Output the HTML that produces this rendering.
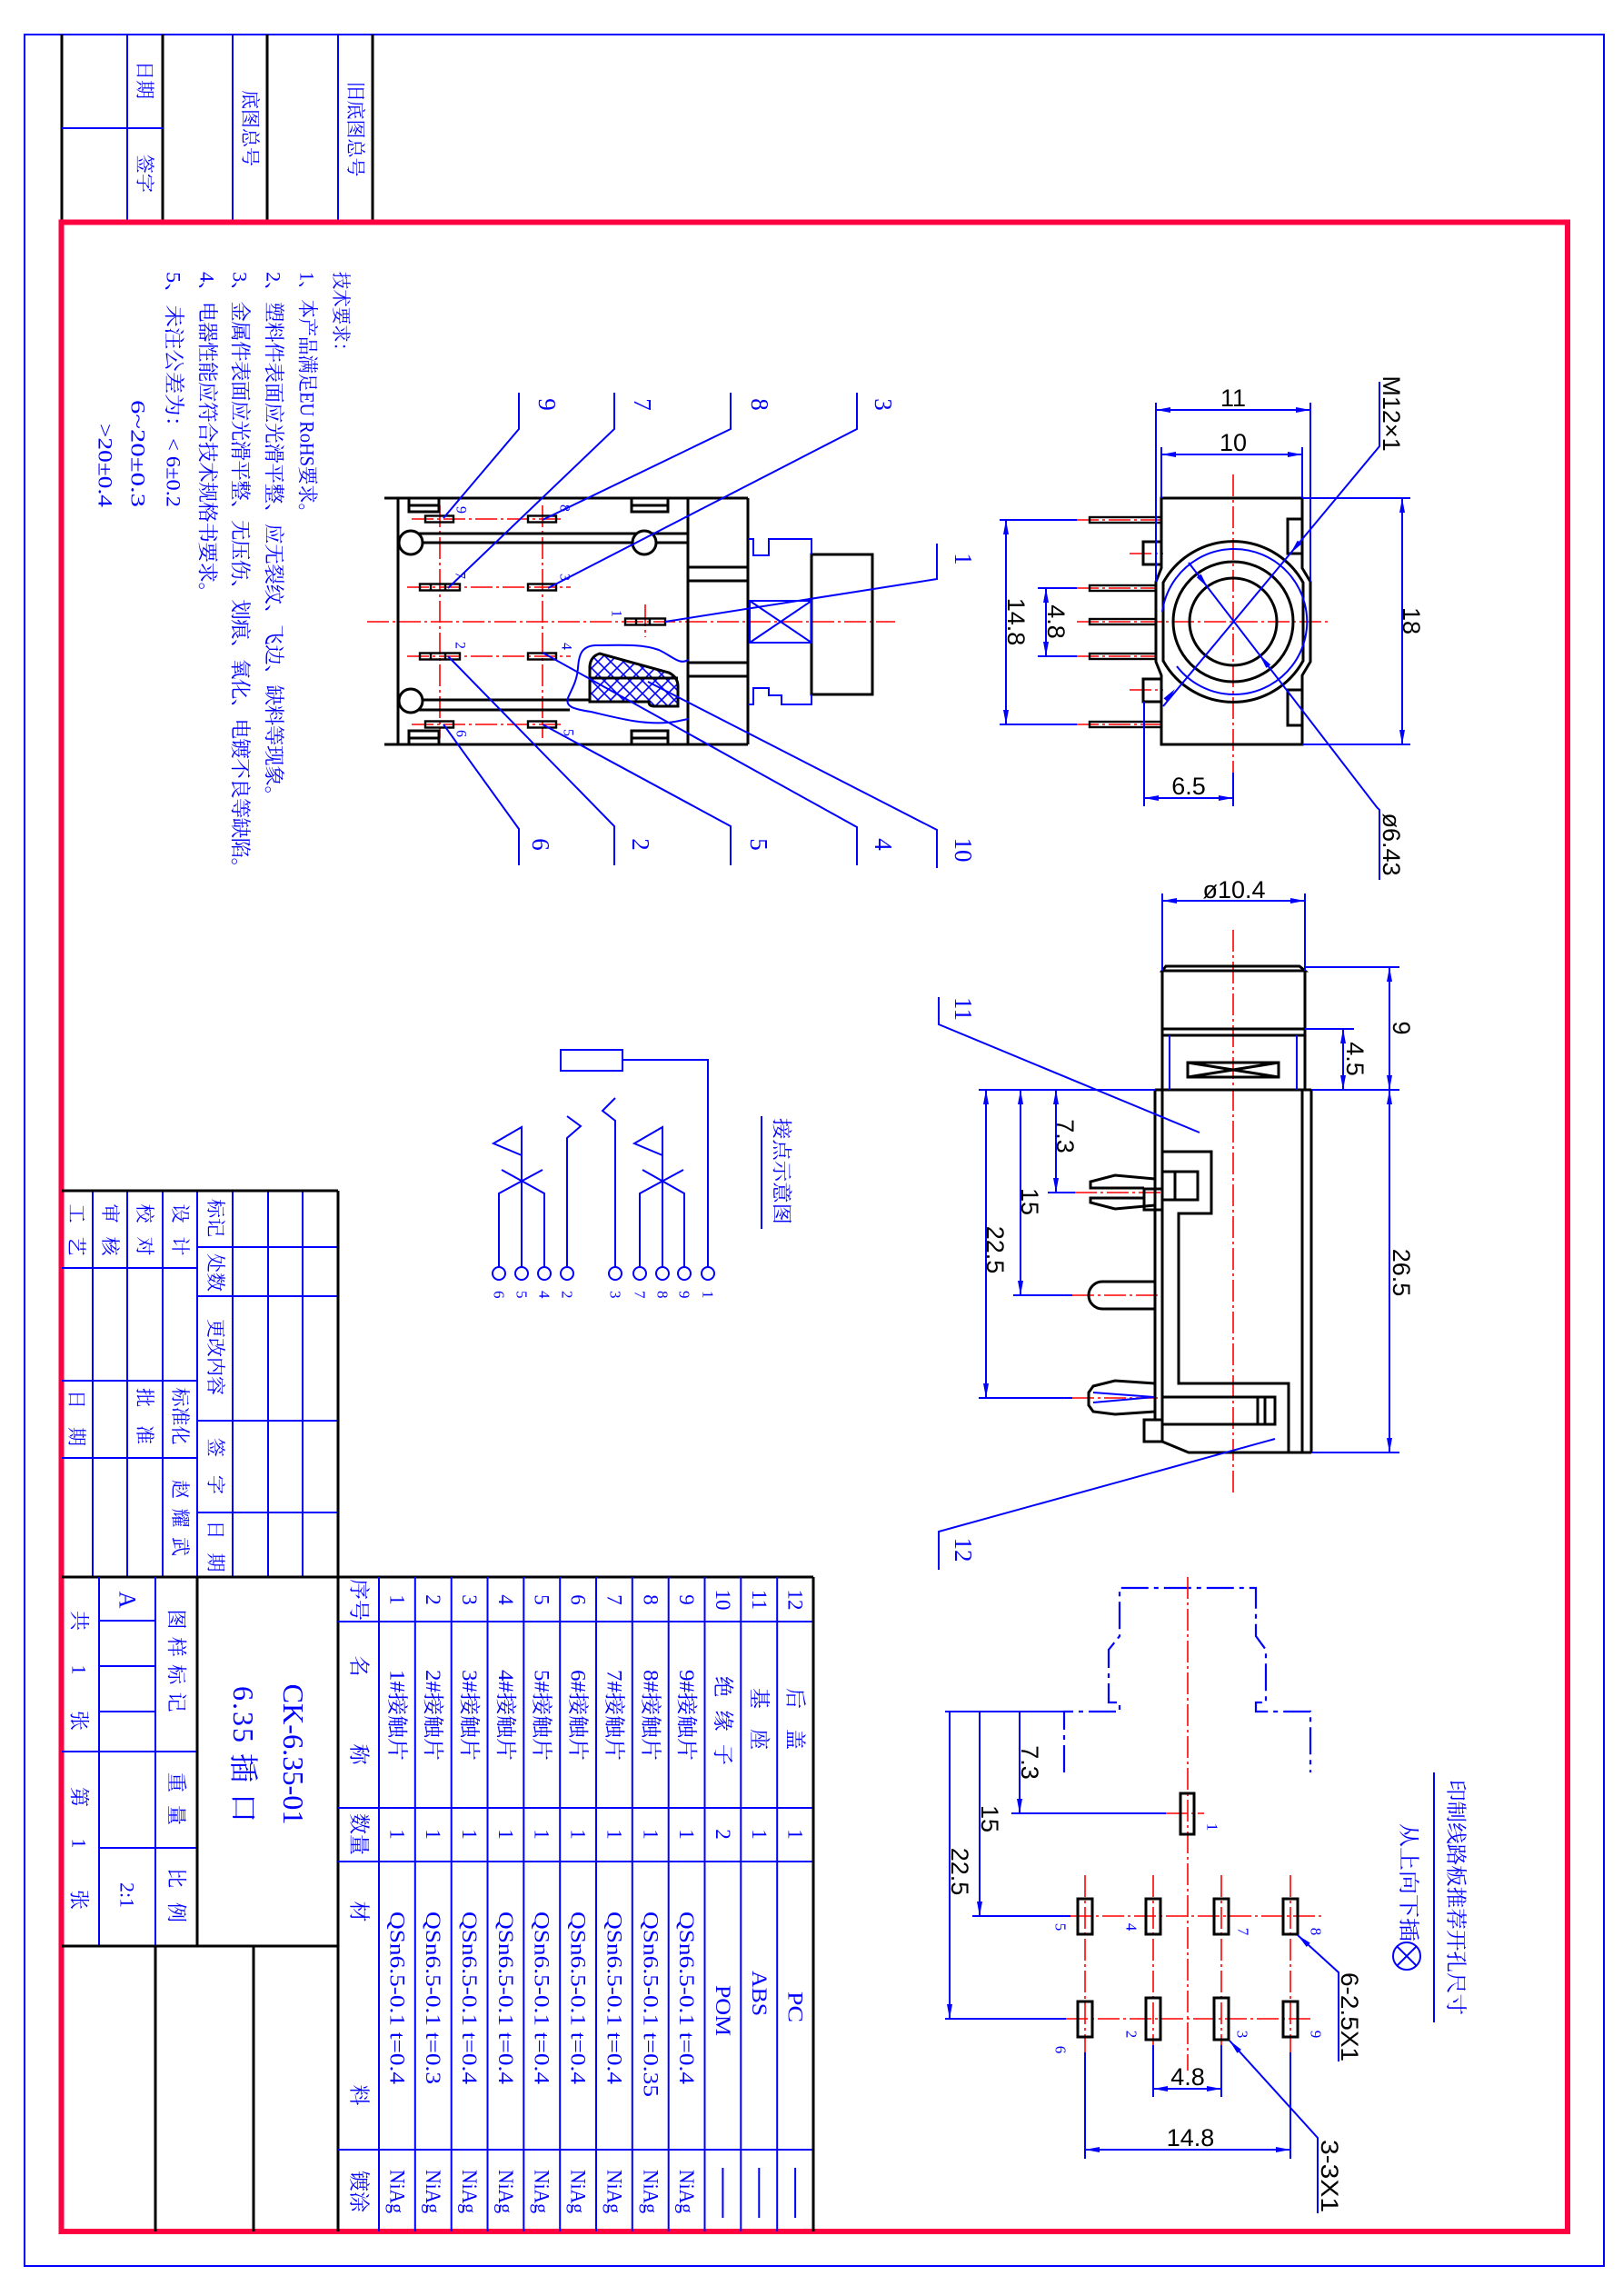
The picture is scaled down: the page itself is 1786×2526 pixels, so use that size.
<!DOCTYPE html>
<html><head><meta charset="utf-8">
<style>
html,body{margin:0;padding:0;background:#fff;}
svg{display:block;}
.t{font-family:"Liberation Serif","Noto Serif CJK SC","Noto Sans CJK SC",serif;fill:#00f;}
.d{font-family:"Liberation Sans",sans-serif;fill:#000;}
.k{stroke:#000;stroke-width:3;fill:none;}
.k2{stroke:#000;stroke-width:2.4;fill:none;}
.b{stroke:#00f;stroke-width:2;fill:none;}
.r{stroke:#f00;stroke-width:1.6;stroke-dasharray:24 4 3 4;fill:none;}
.bd{stroke:#00f;stroke-width:2.2;fill:none;stroke-dasharray:30 6 5 6;}
</style></head><body>
<svg width="1786" height="2526" viewBox="0 0 1786 2526" xmlns="http://www.w3.org/2000/svg">
<defs>
<marker id="ar" viewBox="0 0 16 6" refX="16" refY="3" markerWidth="16" markerHeight="6" markerUnits="userSpaceOnUse" orient="auto-start-reverse"><path d="M0,0 L16,3 L0,6 Z" fill="#00f"/></marker>
<pattern id="hx" width="14" height="14" patternUnits="userSpaceOnUse"><path d="M0,0 L14,14 M14,0 L0,14" stroke="#00f" stroke-width="1.6"/></pattern>
</defs>
<rect width="1786" height="2526" fill="#fff"/>

<!-- ===== FRAME ===== -->
<rect x="27" y="38" width="1738" height="2455" class="b"/>
<g class="k">
<line x1="68" y1="38" x2="68" y2="244"/><line x1="179" y1="38" x2="179" y2="244"/>
<line x1="294" y1="38" x2="294" y2="244"/><line x1="410" y1="38" x2="410" y2="244"/>
</g>
<g class="b">
<line x1="140" y1="38" x2="140" y2="244"/><line x1="256" y1="38" x2="256" y2="244"/>
<line x1="372" y1="38" x2="372" y2="244"/><line x1="68" y1="141" x2="179" y2="141"/>
</g>
<g class="t" font-size="21" dominant-baseline="central" text-anchor="middle">
<text transform="translate(159,88) rotate(90)">日期</text>
<text transform="translate(159,191) rotate(90)">签字</text>
<text transform="translate(275,141) rotate(90)">底图总号</text>
<text transform="translate(391,142) rotate(90)">旧底图总号</text>
</g>
<rect x="67.5" y="244.5" width="1657.5" height="2210.5" fill="none" stroke="#ff0040" stroke-width="6"/>

<!-- ===== TECH REQUIREMENTS ===== -->
<g class="t" font-size="22.5" dominant-baseline="central">
<text transform="translate(375,299) rotate(90)" font-size="21" textLength="97" lengthAdjust="spacingAndGlyphs">技术要求：</text>
<text transform="translate(338,299) rotate(90)" textLength="275" lengthAdjust="spacingAndGlyphs">1、本产品满足EU RoHS要求。</text>
<text transform="translate(301,299) rotate(90)" textLength="588" lengthAdjust="spacing">2、塑料件表面应光滑平整、应无裂纹、飞边、缺料等现象。</text>
<text transform="translate(264,299) rotate(90)" textLength="667" lengthAdjust="spacing">3、金属件表面应光滑平整、无压伤、划痕、氧化、电镀不良等缺陷。</text>
<text transform="translate(228,299) rotate(90)" textLength="364" lengthAdjust="spacing">4、电器性能应符合技术规格书要求。</text>
<text transform="translate(191,299) rotate(90)" textLength="259" lengthAdjust="spacingAndGlyphs">5、未注公差为：&lt; 6±0.2</text>
<text transform="translate(152,440) rotate(90)" textLength="118" lengthAdjust="spacingAndGlyphs">6~20±0.3</text>
<text transform="translate(116,466) rotate(90)" textLength="92" lengthAdjust="spacingAndGlyphs">&gt;20±0.4</text>
</g>

<!-- ===== SECTION VIEW ===== -->
<g class="r">
<line x1="404" y1="684" x2="985" y2="684"/>
<line x1="484" y1="556" x2="484" y2="812"/>
<line x1="597" y1="556" x2="597" y2="812"/>
<line x1="453" y1="571" x2="620" y2="571"/>
<line x1="448" y1="646" x2="628" y2="646"/>
<line x1="448" y1="722" x2="628" y2="722"/>
<line x1="453" y1="797" x2="620" y2="797"/>
<line x1="710" y1="665" x2="710" y2="701"/>
</g>
<g class="k">
<line x1="423" y1="548" x2="823" y2="548"/>
<line x1="423" y1="819" x2="823" y2="819"/>
<line x1="438" y1="548" x2="438" y2="819"/>
<line x1="757" y1="548" x2="757" y2="819"/>
<line x1="823" y1="548" x2="823" y2="819"/>
<path d="M450,548 V563 H483 V548 M450,556 H483"/>
<path d="M695,548 V563 H735 V548 M695,556 H735"/>
<path d="M450,819 V804 H483 V819 M450,812 H483"/>
<path d="M695,819 V804 H735 V819 M695,812 H735"/>
<line x1="452" y1="587" x2="757" y2="587"/>
<line x1="452" y1="597" x2="757" y2="597"/>
<line x1="452" y1="770" x2="648" y2="770"/>
<line x1="452" y1="781" x2="627" y2="781"/>
<line x1="757" y1="624" x2="823" y2="624"/>
<line x1="757" y1="639" x2="823" y2="639"/>
<line x1="757" y1="729" x2="823" y2="729"/>
<line x1="757" y1="744" x2="823" y2="744"/>
<circle cx="452" cy="597" r="13" fill="#fff"/>
<circle cx="709" cy="597" r="13" fill="#fff"/>
<circle cx="452" cy="771" r="13" fill="#fff"/>
<rect x="893" y="610" width="67" height="154"/>
</g>
<!-- hatch -->
<path d="M649,772 L649,733 Q650,722 660,719 L736,740 Q746,745 746,755 L746,777 L720,777 Q714,777 714,772 Z" fill="url(#hx)" stroke="#000" stroke-width="3"/>
<line x1="649" y1="746" x2="746" y2="746" class="k"/>
<path d="M757,726 C748,732 740,722 725,715 C705,708 680,710 655,710 C640,711 637,720 636,735 C635,750 628,760 625,768 C622,777 630,780 650,783 C680,790 705,797 735,795 C745,794 752,792 757,791" class="b"/>
<!-- right blue part -->
<g class="b">
<path d="M823,593 H829 V611 H846 V593 H893 V610"/>
<path d="M823,775 H829 V757 H846 V765 H860 V775 H893 V764"/>
<rect x="825" y="661" width="68" height="46"/>
<path d="M825,661 L893,707 M825,707 L893,661"/>
</g>
<!-- pins -->
<g class="k2">
<rect x="468" y="567.5" width="31" height="7"/>
<rect x="581" y="567.5" width="31" height="7"/>
<rect x="462" y="642.5" width="44" height="7"/>
<rect x="581" y="642.5" width="31" height="7"/>
<rect x="688" y="680.5" width="44" height="7"/>
<rect x="462" y="718.5" width="44" height="7"/>
<rect x="581" y="718.5" width="31" height="7"/>
<rect x="468" y="793.5" width="31" height="7"/>
<rect x="581" y="793.5" width="31" height="7"/>
<path d="M474,642.5 V649.5 M490,642.5 V649.5 M474,718.5 V725.5 M490,718.5 V725.5 M700,680.5 V687.5 M715,680.5 V687.5"/>
</g>
<g class="t" font-size="16" dominant-baseline="central" text-anchor="middle">
<text transform="translate(507,561) rotate(90)">9</text>
<text transform="translate(621,559) rotate(90)">8</text>
<text transform="translate(506,633) rotate(90)">7</text>
<text transform="translate(621,635) rotate(90)">3</text>
<text transform="translate(678,675) rotate(90)">1</text>
<text transform="translate(506,710) rotate(90)">2</text>
<text transform="translate(623,711) rotate(90)">4</text>
<text transform="translate(507,807) rotate(90)">6</text>
<text transform="translate(625,806) rotate(90)">5</text>
</g>
<!-- callout leaders -->
<g class="b">
<path d="M488,570 L571,472 V432"/>
<path d="M493,647 L676,472 V432"/>
<path d="M597,572 L804,472 V432"/>
<path d="M603,647 L943,472 V432"/>
<path d="M732,684 L1031,637 V598"/>
<path d="M488,797 L571,912 V952"/>
<path d="M493,722 L676,909 V952"/>
<path d="M597,797 L804,909 V952"/>
<path d="M597,718 L943,910 V952"/>
<path d="M713,750 L1031,913 V955"/>
</g>
<g class="t" font-size="27" dominant-baseline="central" text-anchor="middle">
<text transform="translate(602,445) rotate(90)">9</text>
<text transform="translate(707,445) rotate(90)">7</text>
<text transform="translate(836,445) rotate(90)">8</text>
<text transform="translate(972,445) rotate(90)">3</text>
<text transform="translate(1060,615) rotate(90)">1</text>
<text transform="translate(595,929) rotate(90)">6</text>
<text transform="translate(705,929) rotate(90)">2</text>
<text transform="translate(835,929) rotate(90)">5</text>
<text transform="translate(972,929) rotate(90)">4</text>
<text transform="translate(1060,935) rotate(90)">10</text>
<text transform="translate(1060,1110) rotate(90)">11</text>
<text transform="translate(1060,1705) rotate(90)">12</text>
</g>

<!-- ===== CONNECTION SCHEMATIC ===== -->
<g class="b">
<rect x="617" y="1155" width="68" height="23"/>
<path d="M685,1166 H779 V1394"/>
<path d="M677,1394 V1233 L663,1222 L677,1208"/>
<path d="M624,1394 V1252 L639,1239 L624,1228"/>
<path d="M729,1394 V1240 L698,1258 L729,1271"/>
<path d="M704,1394 V1313 L752,1287"/>
<path d="M753,1394 V1313 L707,1287"/>
<path d="M574,1394 V1240 L543,1258 L574,1271"/>
<path d="M549,1394 V1313 L597,1287"/>
<path d="M599,1394 V1313 L552,1287"/>
<circle cx="549" cy="1401" r="7"/><circle cx="574" cy="1401" r="7"/><circle cx="599" cy="1401" r="7"/>
<circle cx="624" cy="1401" r="7"/><circle cx="677" cy="1401" r="7"/><circle cx="704" cy="1401" r="7"/>
<circle cx="729" cy="1401" r="7"/><circle cx="753" cy="1401" r="7"/><circle cx="779" cy="1401" r="7"/>
<line x1="838" y1="1228" x2="838" y2="1352"/>
</g>
<g class="t" font-size="17" dominant-baseline="central">
<text transform="translate(549,1420) rotate(90)">6</text>
<text transform="translate(574,1420) rotate(90)">5</text>
<text transform="translate(599,1420) rotate(90)">4</text>
<text transform="translate(624,1420) rotate(90)">2</text>
<text transform="translate(677,1420) rotate(90)">3</text>
<text transform="translate(704,1420) rotate(90)">7</text>
<text transform="translate(729,1420) rotate(90)">8</text>
<text transform="translate(753,1420) rotate(90)">9</text>
<text transform="translate(779,1420) rotate(90)">1</text>
</g>
<text class="t" font-size="22" dominant-baseline="central" transform="translate(860,1230) rotate(90)" textLength="117" lengthAdjust="spacingAndGlyphs">接点示意图</text>

<!-- ===== FRONT VIEW ===== -->
<g class="r">
<line x1="1357" y1="522" x2="1357" y2="850"/>
<line x1="1185" y1="684" x2="1462" y2="684"/>
<line x1="1243" y1="609" x2="1280" y2="609"/>
<line x1="1243" y1="759" x2="1280" y2="759"/>
<line x1="1185" y1="572" x2="1278" y2="572"/>
<line x1="1185" y1="647" x2="1272" y2="647"/>
<line x1="1185" y1="722" x2="1272" y2="722"/>
<line x1="1185" y1="797" x2="1278" y2="797"/>
</g>
<g class="k">
<path d="M1278,548 H1433 V625 L1442,640 V728 L1433,743 V819 H1278 V743 L1272,728 V640 L1278,625 Z"/>
<path d="M1280,641 A88,88 0 0 1 1434,641 V727 A88,88 0 0 1 1280,727 Z"/>
<circle cx="1357" cy="684" r="66"/>
<circle cx="1357" cy="684" r="48"/>
<rect x="1258" y="596" width="20" height="25"/>
<rect x="1258" y="747" width="20" height="25"/>
<rect x="1417" y="571" width="16" height="38"/>
<rect x="1417" y="759" width="16" height="39"/>
</g>
<g class="k2">
<rect x="1199" y="569" width="79" height="6"/>
<rect x="1199" y="644" width="73" height="6"/>
<rect x="1199" y="681" width="73" height="6"/>
<rect x="1199" y="719" width="73" height="6"/>
<rect x="1199" y="794" width="79" height="6"/>
</g>
<path d="M1295,733 A80,80 0 1 0 1279,673" class="b"/>
<g class="b">
<line x1="1272" y1="443" x2="1272" y2="640"/><line x1="1442" y1="443" x2="1442" y2="640"/>
<line x1="1272" y1="451" x2="1442" y2="451" marker-start="url(#ar)" marker-end="url(#ar)"/>
<line x1="1278" y1="492" x2="1278" y2="548"/><line x1="1433" y1="492" x2="1433" y2="548"/>
<line x1="1278" y1="500" x2="1433" y2="500" marker-start="url(#ar)" marker-end="url(#ar)"/>
<line x1="1433" y1="548" x2="1552" y2="548"/><line x1="1433" y1="819" x2="1552" y2="819"/>
<line x1="1543" y1="548" x2="1543" y2="819" marker-start="url(#ar)" marker-end="url(#ar)"/>
<line x1="1100" y1="572" x2="1185" y2="572"/><line x1="1100" y1="797" x2="1185" y2="797"/>
<line x1="1107" y1="572" x2="1107" y2="797" marker-start="url(#ar)" marker-end="url(#ar)"/>
<line x1="1142" y1="647" x2="1185" y2="647"/><line x1="1142" y1="722" x2="1185" y2="722"/>
<line x1="1151" y1="647" x2="1151" y2="722" marker-start="url(#ar)" marker-end="url(#ar)"/>
<line x1="1259" y1="772" x2="1259" y2="887"/><line x1="1357" y1="850" x2="1357" y2="887"/>
<line x1="1259" y1="878" x2="1357" y2="878" marker-start="url(#ar)" marker-end="url(#ar)"/>
<path d="M1280,777 L1518,491 V420"/>
<path d="M1308,619 L1515,888 L1518,891 V968"/>
</g>
<g fill="#00f">
<polygon points="1420,608.8 1432.5,598.4 1427.9,594.6"/>
<polygon points="1293,758 1285.1,772.2 1280.5,768.4"/>
<polygon points="1329,646.3 1316.8,635.1 1321.6,631.5"/>
<polygon points="1386,720.4 1393.4,734.9 1398.2,731.3"/>
</g>
<g class="d" font-size="27" text-anchor="middle">
<text x="1357" y="447">11</text>
<text x="1357" y="496">10</text>
<text x="1308" y="874">6.5</text>
</g>
<g class="d" font-size="27" text-anchor="middle" dominant-baseline="central">
<text transform="translate(1553,683) rotate(90)">18</text>
<text transform="translate(1118,684) rotate(90)">14.8</text>
<text transform="translate(1162,684) rotate(90)">4.8</text>
<text transform="translate(1531,455) rotate(90)">M12×1</text>
<text transform="translate(1531,929) rotate(90)">ø6.43</text>
</g>

<!-- ===== SIDE VIEW ===== -->
<line x1="1357" y1="1023" x2="1357" y2="1645" class="r"/>
<g class="r">
<line x1="1183" y1="1312" x2="1279" y2="1312"/>
<line x1="1180" y1="1425" x2="1279" y2="1425"/>
<line x1="1180" y1="1538" x2="1279" y2="1538"/>
</g>
<g class="k">
<path d="M1279,1068 L1283,1063 H1430 L1436,1068 Z"/>
<line x1="1279" y1="1068" x2="1279" y2="1199"/>
<line x1="1436" y1="1068" x2="1436" y2="1199"/>
<line x1="1279" y1="1132" x2="1436" y2="1132"/>
<line x1="1279" y1="1139" x2="1436" y2="1139"/>
<rect x="1307" y="1169" width="100" height="16"/>
<path d="M1307,1169 L1407,1185 M1307,1185 L1407,1169"/>
<line x1="1271" y1="1199" x2="1443" y2="1199"/>
<line x1="1271" y1="1199" x2="1271" y2="1561"/>
<line x1="1279" y1="1199" x2="1279" y2="1587"/>
<line x1="1433" y1="1199" x2="1433" y2="1598"/>
<line x1="1443" y1="1199" x2="1443" y2="1598"/>
<path d="M1279,1267 H1333 V1335 H1297 V1522 H1418 V1598"/>
<rect x="1279" y="1289" width="39" height="31"/>
<line x1="1293" y1="1289" x2="1293" y2="1320"/>
<rect x="1259" y="1308" width="20" height="23"/>
<path d="M1279,1537 H1403 V1567 H1279"/>
<path d="M1384,1537 V1567 M1392,1537 V1567"/>
<rect x="1259" y="1562" width="20" height="24"/>
<path d="M1279,1586 L1308,1598 H1443"/>
<path d="M1271,1297 L1227,1293 L1200,1300 L1200,1307 L1259,1307 M1259,1318 L1200,1318 L1200,1323 L1227,1330 L1271,1326"/>
<path d="M1271,1410 H1213 A15,15 0 0 0 1213,1440 H1271"/>
<path d="M1271,1522 L1227,1519 L1203,1525 L1198,1532 L1198,1546 L1203,1553 L1227,1556 L1271,1553"/>
</g>
<g class="b">
<line x1="1287" y1="1139" x2="1287" y2="1199"/>
<line x1="1427" y1="1139" x2="1427" y2="1199"/>
<path d="M1203,1532 L1270,1537 L1203,1543"/>
<line x1="1279" y1="983" x2="1279" y2="1068"/><line x1="1436" y1="983" x2="1436" y2="1068"/>
<line x1="1279" y1="991" x2="1436" y2="991" marker-start="url(#ar)" marker-end="url(#ar)"/>
<line x1="1436" y1="1064" x2="1540" y2="1064"/>
<line x1="1436" y1="1132" x2="1490" y2="1132"/>
<line x1="1077" y1="1199" x2="1271" y2="1199"/>
<line x1="1443" y1="1199" x2="1540" y2="1199"/>
<line x1="1443" y1="1598" x2="1540" y2="1598"/>
<line x1="1529" y1="1064" x2="1529" y2="1199" marker-start="url(#ar)" marker-end="url(#ar)"/>
<line x1="1529" y1="1199" x2="1529" y2="1598" marker-start="url(#ar)" marker-end="url(#ar)"/>
<line x1="1478" y1="1132" x2="1478" y2="1199" marker-start="url(#ar)" marker-end="url(#ar)"/>
<line x1="1153" y1="1312" x2="1183" y2="1312"/>
<line x1="1115" y1="1425" x2="1180" y2="1425"/>
<line x1="1077" y1="1538" x2="1180" y2="1538"/>
<line x1="1162" y1="1199" x2="1162" y2="1312" marker-start="url(#ar)" marker-end="url(#ar)"/>
<line x1="1123" y1="1199" x2="1123" y2="1425" marker-start="url(#ar)" marker-end="url(#ar)"/>
<line x1="1085" y1="1199" x2="1085" y2="1538" marker-start="url(#ar)" marker-end="url(#ar)"/>
<path d="M1033,1097 V1127 L1320,1246"/>
<path d="M1403,1583 L1033,1685 V1727"/>
</g>
<text class="d" font-size="27" text-anchor="middle" x="1358" y="988">ø10.4</text>
<g class="d" font-size="27" text-anchor="middle" dominant-baseline="central">
<text transform="translate(1542,1131) rotate(90)">9</text>
<text transform="translate(1542,1400) rotate(90)">26.5</text>
<text transform="translate(1491,1165) rotate(90)">4.5</text>
<text transform="translate(1172,1250) rotate(90)">7.3</text>
<text transform="translate(1133,1322) rotate(90)">15</text>
<text transform="translate(1095,1375) rotate(90)">22.5</text>
</g>

<!-- ===== PCB LAYOUT ===== -->
<path d="M1171,1950 V1883 H1232 V1873 H1220 V1815 L1232,1800 V1747 H1382 V1800 L1393,1815 V1873 H1382 V1883 H1442 V1950" class="bd"/>
<g class="r">
<line x1="1307" y1="1735" x2="1307" y2="2278"/>
<line x1="1283" y1="1995" x2="1325" y2="1995"/>
<line x1="1178" y1="2108" x2="1455" y2="2108"/>
<line x1="1173" y1="2221" x2="1445" y2="2221"/>
<line x1="1194" y1="2063" x2="1194" y2="2258"/>
<line x1="1269" y1="2063" x2="1269" y2="2258"/>
<line x1="1344" y1="2063" x2="1344" y2="2258"/>
<line x1="1420" y1="2063" x2="1420" y2="2258"/>
</g>
<g class="k">
<rect x="1299" y="1973" width="15" height="45"/>
<rect x="1186" y="2089" width="16" height="39"/>
<rect x="1261" y="2089" width="16" height="39"/>
<rect x="1336" y="2089" width="16" height="39"/>
<rect x="1412" y="2089" width="16" height="39"/>
<rect x="1186" y="2202" width="16" height="39"/>
<rect x="1261" y="2198" width="16" height="46"/>
<rect x="1336" y="2198" width="16" height="46"/>
<rect x="1412" y="2202" width="16" height="39"/>
</g>
<g class="t" font-size="17" dominant-baseline="central" text-anchor="middle">
<text transform="translate(1334,2010) rotate(90)">1</text>
<text transform="translate(1167,2120) rotate(90)">5</text>
<text transform="translate(1245,2120) rotate(90)">4</text>
<text transform="translate(1368,2125) rotate(90)">7</text>
<text transform="translate(1448,2125) rotate(90)">8</text>
<text transform="translate(1167,2255) rotate(90)">6</text>
<text transform="translate(1245,2238) rotate(90)">2</text>
<text transform="translate(1367,2238) rotate(90)">3</text>
<text transform="translate(1448,2238) rotate(90)">9</text>
</g>
<g class="b">
<line x1="1040" y1="1883" x2="1171" y2="1883"/>
<line x1="1113" y1="1995" x2="1283" y2="1995"/>
<line x1="1070" y1="2108" x2="1178" y2="2108"/>
<line x1="1040" y1="2221" x2="1173" y2="2221"/>
<line x1="1122" y1="1883" x2="1122" y2="1995" marker-end="url(#ar)"/>
<line x1="1078" y1="1883" x2="1078" y2="2108" marker-end="url(#ar)"/>
<line x1="1045" y1="1883" x2="1045" y2="2221" marker-end="url(#ar)"/>
<line x1="1194" y1="2258" x2="1194" y2="2375"/>
<line x1="1420" y1="2258" x2="1420" y2="2375"/>
<line x1="1269" y1="2250" x2="1269" y2="2307"/>
<line x1="1344" y1="2250" x2="1344" y2="2307"/>
<line x1="1269" y1="2298" x2="1344" y2="2298" marker-start="url(#ar)" marker-end="url(#ar)"/>
<line x1="1194" y1="2365" x2="1420" y2="2365" marker-start="url(#ar)" marker-end="url(#ar)"/>
<path d="M1473,2268 V2170 L1428,2129" marker-end="url(#ar)"/>
<path d="M1450,2435 V2352 L1353,2245" marker-end="url(#ar)"/>
<line x1="1578" y1="1950" x2="1578" y2="2225"/>
<circle cx="1548" cy="2152" r="15"/>
<path d="M1537.4,2141.4 L1558.6,2162.6 M1558.6,2141.4 L1537.4,2162.6"/>
</g>
<g class="d" font-size="27" text-anchor="middle">
<text x="1307" y="2294">4.8</text>
<text x="1310" y="2361">14.8</text>
</g>
<g class="d" font-size="27" dominant-baseline="central">
<text transform="translate(1133,1939) rotate(90)" text-anchor="middle">7.3</text>
<text transform="translate(1089,2001) rotate(90)" text-anchor="middle">15</text>
<text transform="translate(1056,2059) rotate(90)" text-anchor="middle">22.5</text>
<text transform="translate(1485,2170) rotate(90)" textLength="98" lengthAdjust="spacingAndGlyphs">6-2.5X1</text>
<text transform="translate(1463,2354) rotate(90)" textLength="80" lengthAdjust="spacingAndGlyphs">3-3X1</text>
</g>
<g class="t" dominant-baseline="central">
<text font-size="23" transform="translate(1602,1958) rotate(90)" textLength="259" lengthAdjust="spacingAndGlyphs">印制线路板推荐开孔尺寸</text>
<text font-size="23" transform="translate(1550,2006) rotate(90)" textLength="130" lengthAdjust="spacingAndGlyphs">从上向下插</text>
</g>

<!-- ===== REVISION BLOCK ===== -->
<g class="b">
<line x1="102" y1="1310" x2="102" y2="1735"/><line x1="140" y1="1310" x2="140" y2="1735"/>
<line x1="179" y1="1310" x2="179" y2="1735"/><line x1="217" y1="1310" x2="217" y2="1735"/>
<line x1="256" y1="1310" x2="256" y2="1735"/><line x1="295" y1="1310" x2="295" y2="1735"/>
<line x1="333" y1="1310" x2="333" y2="1735"/>
<line x1="217" y1="1372" x2="372" y2="1372"/><line x1="217" y1="1426" x2="372" y2="1426"/>
<line x1="217" y1="1563" x2="372" y2="1563"/><line x1="217" y1="1664" x2="372" y2="1664"/>
<line x1="68" y1="1395" x2="217" y2="1395"/><line x1="68" y1="1519" x2="217" y2="1519"/>
<line x1="68" y1="1604" x2="217" y2="1604"/>
</g>
<g class="k">
<line x1="68" y1="1310" x2="372" y2="1310"/>
<line x1="372" y1="1310" x2="372" y2="2455"/>
<line x1="68" y1="1735" x2="895" y2="1735"/>
</g>
<g class="t" font-size="21" dominant-baseline="central" text-anchor="middle">
<text transform="translate(237,1340) rotate(90)">标记</text>
<text transform="translate(237,1400) rotate(90)">处数</text>
<text transform="translate(237,1493) rotate(90)">更改内容</text>
<text transform="translate(237,1613) rotate(90)" textLength="62" lengthAdjust="spacing">签 字</text>
<text transform="translate(237,1701) rotate(90)" textLength="57" lengthAdjust="spacing">日 期</text>
<text transform="translate(198,1353) rotate(90)" textLength="57" lengthAdjust="spacing">设 计</text>
<text transform="translate(198,1558) rotate(90)">标准化</text>
<text transform="translate(198,1670) rotate(90)" textLength="84" lengthAdjust="spacing">赵 耀 武</text>
<text transform="translate(159,1353) rotate(90)" textLength="57" lengthAdjust="spacing">校 对</text>
<text transform="translate(159,1558) rotate(90)" textLength="62" lengthAdjust="spacing">批 准</text>
<text transform="translate(121,1353) rotate(90)" textLength="57" lengthAdjust="spacing">审 核</text>
<text transform="translate(84,1353) rotate(90)" textLength="57" lengthAdjust="spacing">工 艺</text>
<text transform="translate(84,1560) rotate(90)" textLength="62" lengthAdjust="spacing">日 期</text>
</g>

<!-- ===== TITLE BLOCK ===== -->
<g class="b">
<line x1="109" y1="1735" x2="109" y2="2141"/><line x1="171" y1="1735" x2="171" y2="2141"/>
<line x1="109" y1="1783" x2="171" y2="1783"/><line x1="109" y1="1833" x2="171" y2="1833"/>
<line x1="109" y1="1883" x2="171" y2="1883"/>
<line x1="68" y1="1927" x2="217" y2="1927"/>
<line x1="109" y1="2033" x2="217" y2="2033"/>
</g>
<g class="k">
<line x1="217" y1="1735" x2="217" y2="2141"/>
<line x1="68" y1="2141" x2="372" y2="2141"/>
<line x1="171" y1="2141" x2="171" y2="2455"/>
<line x1="279" y1="2141" x2="279" y2="2455"/>
</g>
<g class="t" font-size="22" dominant-baseline="central" text-anchor="middle">
<text transform="translate(87,1783) rotate(90)">共</text>
<text transform="translate(87,1837) rotate(90)">1</text>
<text transform="translate(87,1893) rotate(90)">张</text>
<text transform="translate(87,1977) rotate(90)">第</text>
<text transform="translate(87,2028) rotate(90)">1</text>
<text transform="translate(87,2090) rotate(90)">张</text>
<text transform="translate(140,1760) rotate(90)" font-size="26">A</text>
<text transform="translate(140,2085) rotate(90)">2:1</text>
<text transform="translate(194,1827) rotate(90)" textLength="113" lengthAdjust="spacing">图 样 标 记</text>
<text transform="translate(194,1979) rotate(90)" textLength="58" lengthAdjust="spacing">重 量</text>
<text transform="translate(194,2085) rotate(90)" textLength="60" lengthAdjust="spacing">比 例</text>
<text transform="translate(323,1930) rotate(90)" font-size="32" textLength="155" lengthAdjust="spacingAndGlyphs">CK-6.35-01</text>
<text transform="translate(268,1930) rotate(90)" font-size="32" textLength="150" lengthAdjust="spacing">6.35 插 口</text>
</g>

<!-- ===== PARTS TABLE ===== -->
<g class="b">
<line x1="417" y1="1735" x2="417" y2="2455"/>
<line x1="456.8" y1="1735" x2="456.8" y2="2455"/>
<line x1="496.7" y1="1735" x2="496.7" y2="2455"/>
<line x1="536.5" y1="1735" x2="536.5" y2="2455"/>
<line x1="576.3" y1="1735" x2="576.3" y2="2455"/>
<line x1="616.2" y1="1735" x2="616.2" y2="2455"/>
<line x1="656" y1="1735" x2="656" y2="2455"/>
<line x1="695.8" y1="1735" x2="695.8" y2="2455"/>
<line x1="735.7" y1="1735" x2="735.7" y2="2455"/>
<line x1="775.5" y1="1735" x2="775.5" y2="2455"/>
<line x1="815.3" y1="1735" x2="815.3" y2="2455"/>
<line x1="855.2" y1="1735" x2="855.2" y2="2455"/>
<line x1="372" y1="1784" x2="895" y2="1784"/>
<line x1="372" y1="1989" x2="895" y2="1989"/>
<line x1="372" y1="2048" x2="895" y2="2048"/>
<line x1="372" y1="2365" x2="895" y2="2365"/>
<line x1="795.4" y1="2385" x2="795.4" y2="2440"/>
<line x1="835.3" y1="2385" x2="835.3" y2="2440"/>
<line x1="875.1" y1="2385" x2="875.1" y2="2440"/>
</g>
<line x1="895" y1="1735" x2="895" y2="2455" class="k"/>
<g class="t" font-size="23" dominant-baseline="central" text-anchor="middle">
<text transform="translate(395,1760) rotate(90)">序号</text>
<text transform="translate(395,1833) rotate(90)">名</text>
<text transform="translate(395,1930) rotate(90)">称</text>
<text transform="translate(395,2018) rotate(90)">数量</text>
<text transform="translate(395,2103) rotate(90)">材</text>
<text transform="translate(395,2305) rotate(90)">料</text>
<text transform="translate(395,2411) rotate(90)">镀涂</text>
<text transform="translate(436.9,1760) rotate(90)">1</text>
<text transform="translate(476.7,1760) rotate(90)">2</text>
<text transform="translate(516.6,1760) rotate(90)">3</text>
<text transform="translate(556.4,1760) rotate(90)">4</text>
<text transform="translate(596.2,1760) rotate(90)">5</text>
<text transform="translate(636.1,1760) rotate(90)">6</text>
<text transform="translate(675.9,1760) rotate(90)">7</text>
<text transform="translate(715.8,1760) rotate(90)">8</text>
<text transform="translate(755.6,1760) rotate(90)">9</text>
<text transform="translate(795.4,1760) rotate(90)">10</text>
<text transform="translate(835.3,1760) rotate(90)">11</text>
<text transform="translate(875.1,1760) rotate(90)">12</text>
<text transform="translate(436.9,1887) rotate(90)" textLength="100" lengthAdjust="spacingAndGlyphs">1#接触片</text>
<text transform="translate(476.7,1887) rotate(90)" textLength="100" lengthAdjust="spacingAndGlyphs">2#接触片</text>
<text transform="translate(516.6,1887) rotate(90)" textLength="100" lengthAdjust="spacingAndGlyphs">3#接触片</text>
<text transform="translate(556.4,1887) rotate(90)" textLength="100" lengthAdjust="spacingAndGlyphs">4#接触片</text>
<text transform="translate(596.2,1887) rotate(90)" textLength="100" lengthAdjust="spacingAndGlyphs">5#接触片</text>
<text transform="translate(636.1,1887) rotate(90)" textLength="100" lengthAdjust="spacingAndGlyphs">6#接触片</text>
<text transform="translate(675.9,1887) rotate(90)" textLength="100" lengthAdjust="spacingAndGlyphs">7#接触片</text>
<text transform="translate(715.8,1887) rotate(90)" textLength="100" lengthAdjust="spacingAndGlyphs">8#接触片</text>
<text transform="translate(755.6,1887) rotate(90)" textLength="100" lengthAdjust="spacingAndGlyphs">9#接触片</text>
<text transform="translate(795.4,1893) rotate(90)" textLength="98" lengthAdjust="spacing">绝 缘 子</text>
<text transform="translate(835.3,1891) rotate(90)" textLength="68" lengthAdjust="spacing">基 座</text>
<text transform="translate(875.1,1891) rotate(90)" textLength="68" lengthAdjust="spacing">后 盖</text>
<text transform="translate(436.9,2018) rotate(90)">1</text>
<text transform="translate(476.7,2018) rotate(90)">1</text>
<text transform="translate(516.6,2018) rotate(90)">1</text>
<text transform="translate(556.4,2018) rotate(90)">1</text>
<text transform="translate(596.2,2018) rotate(90)">1</text>
<text transform="translate(636.1,2018) rotate(90)">1</text>
<text transform="translate(675.9,2018) rotate(90)">1</text>
<text transform="translate(715.8,2018) rotate(90)">1</text>
<text transform="translate(755.6,2018) rotate(90)">1</text>
<text transform="translate(795.4,2018) rotate(90)">2</text>
<text transform="translate(835.3,2018) rotate(90)">1</text>
<text transform="translate(875.1,2018) rotate(90)">1</text>
<text transform="translate(436.9,2198) rotate(90)" textLength="190" lengthAdjust="spacingAndGlyphs">QSn6.5-0.1 t=0.4</text>
<text transform="translate(476.7,2198) rotate(90)" textLength="190" lengthAdjust="spacingAndGlyphs">QSn6.5-0.1 t=0.3</text>
<text transform="translate(516.6,2198) rotate(90)" textLength="190" lengthAdjust="spacingAndGlyphs">QSn6.5-0.1 t=0.4</text>
<text transform="translate(556.4,2198) rotate(90)" textLength="190" lengthAdjust="spacingAndGlyphs">QSn6.5-0.1 t=0.4</text>
<text transform="translate(596.2,2198) rotate(90)" textLength="190" lengthAdjust="spacingAndGlyphs">QSn6.5-0.1 t=0.4</text>
<text transform="translate(636.1,2198) rotate(90)" textLength="190" lengthAdjust="spacingAndGlyphs">QSn6.5-0.1 t=0.4</text>
<text transform="translate(675.9,2198) rotate(90)" textLength="190" lengthAdjust="spacingAndGlyphs">QSn6.5-0.1 t=0.4</text>
<text transform="translate(715.8,2205) rotate(90)" textLength="204" lengthAdjust="spacingAndGlyphs">QSn6.5-0.1 t=0.35</text>
<text transform="translate(755.6,2198) rotate(90)" textLength="190" lengthAdjust="spacingAndGlyphs">QSn6.5-0.1 t=0.4</text>
<text transform="translate(795.4,2212) rotate(90)" textLength="56" lengthAdjust="spacingAndGlyphs">POM</text>
<text transform="translate(835.3,2193) rotate(90)" textLength="50" lengthAdjust="spacingAndGlyphs">ABS</text>
<text transform="translate(875.1,2208) rotate(90)" textLength="34" lengthAdjust="spacingAndGlyphs">PC</text>
<text transform="translate(436.9,2411) rotate(90)" textLength="48" lengthAdjust="spacingAndGlyphs">NiAg</text>
<text transform="translate(476.7,2411) rotate(90)" textLength="48" lengthAdjust="spacingAndGlyphs">NiAg</text>
<text transform="translate(516.6,2411) rotate(90)" textLength="48" lengthAdjust="spacingAndGlyphs">NiAg</text>
<text transform="translate(556.4,2411) rotate(90)" textLength="48" lengthAdjust="spacingAndGlyphs">NiAg</text>
<text transform="translate(596.2,2411) rotate(90)" textLength="48" lengthAdjust="spacingAndGlyphs">NiAg</text>
<text transform="translate(636.1,2411) rotate(90)" textLength="48" lengthAdjust="spacingAndGlyphs">NiAg</text>
<text transform="translate(675.9,2411) rotate(90)" textLength="48" lengthAdjust="spacingAndGlyphs">NiAg</text>
<text transform="translate(715.8,2411) rotate(90)" textLength="48" lengthAdjust="spacingAndGlyphs">NiAg</text>
<text transform="translate(755.6,2411) rotate(90)" textLength="48" lengthAdjust="spacingAndGlyphs">NiAg</text>
</g>
</svg>
</body></html>
